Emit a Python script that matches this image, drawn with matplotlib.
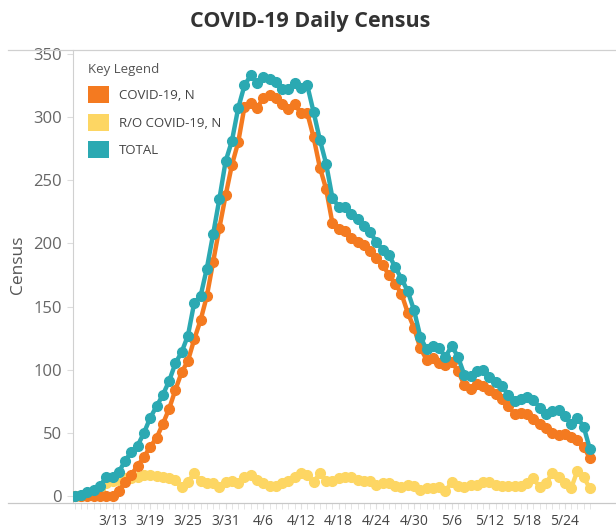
import numpy as np
import matplotlib
matplotlib.use('Agg')
import matplotlib.pyplot as plt
from matplotlib.patches import Patch
from matplotlib.lines import Line2D

# daily census, 3/7 .. 5/28
covid = [0, 0, 0, 0, 0, 0, 0, 4, 11, 17, 24, 31, 39, 46, 57, 69, 84, 98, 107, 124,
         139, 158, 185, 212, 238, 262, 280, 308, 311, 307, 315, 317, 315, 310, 306, 310, 303, 303, 284, 260,
         243, 216, 211, 210, 204, 201, 199, 194, 188, 183, 175, 168, 160, 145, 133, 117, 108, 109, 105, 104,
         106, 99, 88, 85, 89, 87, 84, 81, 77, 71, 65, 66, 65, 61, 57, 54, 50, 48, 49, 47,
         44, 39, 30]
ro_covid = [0, 0, 2, 3, 5, 10, 12, 13, 14, 14, 15, 17, 17, 16, 15, 14, 13, 7, 11, 18,
            12, 10, 10, 7, 11, 12, 10, 15, 17, 13, 10, 8, 8, 10, 12, 15, 18, 17, 11, 18,
            12, 12, 14, 15, 15, 13, 12, 12, 9, 10, 10, 8, 7, 9, 8, 5, 6, 6, 7, 4,
            11, 8, 7, 9, 9, 11, 11, 9, 8, 8, 8, 8, 10, 14, 7, 10, 18, 15, 10, 6,
            20, 15, 6]
total = [0, 1, 3, 5, 8, 15, 15, 19, 28, 35, 40, 50, 62, 71, 80, 91, 105, 114, 127, 153,
         158, 180, 207, 235, 265, 281, 307, 325, 333, 327, 332, 330, 328, 322, 322, 327, 323, 325, 304, 282,
         263, 236, 229, 229, 223, 219, 214, 209, 201, 195, 191, 181, 172, 162, 147, 126, 116, 119, 117, 110,
         119, 110, 96, 95, 99, 100, 94, 90, 87, 80, 75, 77, 78, 76, 70, 65, 67, 68, 63, 57,
         62, 55, 37]

tick_pos = [6, 12, 18, 24, 30, 36, 42, 48, 54, 60, 66, 72, 78]
tick_labels = ['3/13', '3/19', '3/25', '3/31', '4/6', '4/12', '4/18', '4/24', '4/30',
               '5/6', '5/12', '5/18', '5/24']

orange = '#F47A20'
yellow = '#FDD663'
teal = '#2BA9B2'

plt.rcParams['font.family'] = ['Open Sans', 'DejaVu Sans']

W, H = 616, 531
fig = plt.figure(figsize=(W / 100, H / 100), dpi=100)
ax = fig.add_axes([73 / W, 1 - 503 / H, (605 - 73) / W, (503 - 50) / H])

x = np.arange(len(total))
ax.plot(x, ro_covid, color=yellow, lw=3.2, marker='o', ms=7, zorder=2)
ax.plot(x, covid, color=orange, lw=3.2, marker='o', ms=7, zorder=3)
ax.plot(x, total, color=teal, lw=3.2, marker='o', ms=7, zorder=4)

ax.set_xlim(-0.3, 84.4)
ax.set_ylim(-5.5, 353)

ax.set_yticks(range(0, 351, 50))
ax.set_xticks(tick_pos)
ax.set_xticklabels(tick_labels)
ax.set_xticks(x, minor=True)
ax.tick_params(axis='y', length=4, color='#dddddd', labelsize=12, labelcolor='#666666', pad=4)
ax.tick_params(axis='x', which='both', length=4, color='#e0e0e0', labelsize=10,
               labelcolor='#444444', pad=4)

for s in ['top', 'right', 'bottom']:
    ax.spines[s].set_visible(False)
ax.spines['left'].set_color('#d0d0d0')

# full-width rules above and below the plot
fig.add_artist(Line2D([8 / W, 1], [1 - 50 / H, 1 - 50 / H], color='#d0d0d0', lw=0.9))
fig.add_artist(Line2D([8 / W, 1], [1 - 503 / H, 1 - 503 / H], color='#c8c8c8', lw=0.9))

fig.text(310 / W, 1 - 22 / H, 'COVID-19 Daily Census', ha='center', va='center',
         fontsize=15.5, fontweight='bold', color='#333333')
fig.text(18 / W, 1 - 265 / H, 'Census', rotation=90, ha='center', va='center',
         fontsize=12.5, color='#555555')

handles = [Patch(facecolor=orange, label='COVID-19, N'),
           Patch(facecolor=yellow, label='R/O COVID-19, N'),
           Patch(facecolor=teal, label='TOTAL')]
leg = ax.legend(handles=handles, title='Key Legend', loc='upper left',
                bbox_to_anchor=(0.005, 0.998), frameon=False, fontsize=9.5,
                title_fontsize=9.5, handlelength=1.6, handleheight=1.6,
                labelspacing=0.8, alignment='left', handletextpad=0.8)
leg.get_title().set_color('#555555')
for t in leg.get_texts():
    t.set_color('#444444')

fig.savefig('out.png', dpi=100)
